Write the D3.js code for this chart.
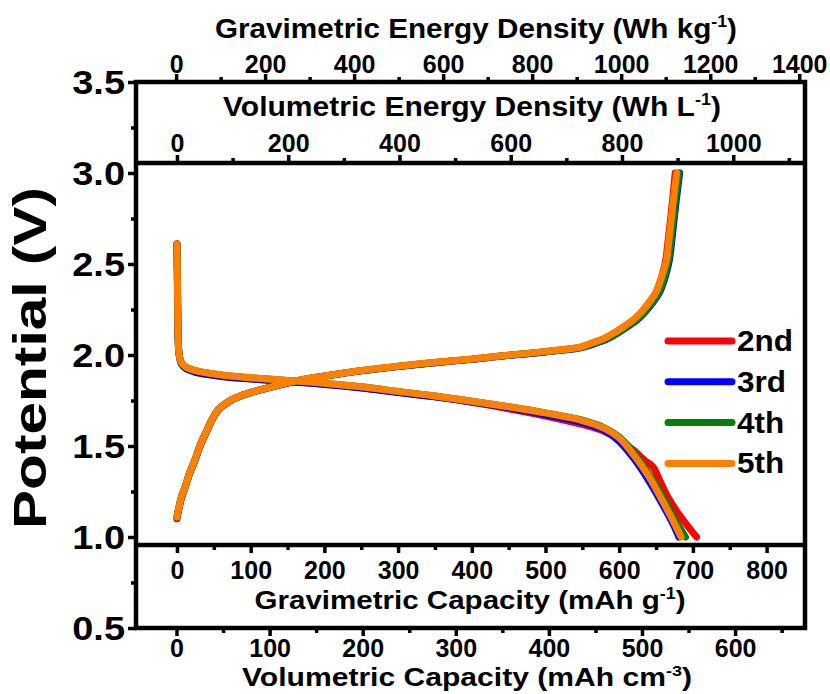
<!DOCTYPE html>
<html><head><meta charset="utf-8">
<script src="https://cdn.jsdelivr.net/npm/d3@7"></script>
<style>
html,body{margin:0;padding:0;background:#fff;}
svg text{font-family:"Liberation Sans",Arial,sans-serif;font-weight:bold;fill:#000;}
</style></head><body>
<svg id="chart" width="830" height="694"></svg>
<script>
// ---------------- data ----------------
const cycles = ["2nd", "3rd", "4th", "5th"];
const colors = ["#FF0000", "#0000FF", "#008000", "#FF8000"];

// discharge curves: [gravimetric capacity (mAh/g), potential (V)]
const discharge2nd = [[0,2.61],[0.5,2.45],[1,2.25],[1.5,2.1],[3,2.0],[6,1.955],[12,1.93],[25,1.91],[60,1.885],[100,1.87],[150,1.855],[200,1.84],[250,1.82],[300,1.795],[350,1.77],[400,1.74],[450,1.705],[500,1.665],[548,1.62],[580,1.58],[600,1.535],[620,1.475],[635,1.42],[646,1.385],[654,1.32],[666,1.22],[680,1.13],[693,1.06],[705,1.0]];
const discharge3rd = [[0,2.61],[0.5,2.45],[1,2.25],[1.5,2.1],[3,2.0],[6,1.95],[12,1.925],[25,1.905],[60,1.882],[100,1.868],[150,1.853],[200,1.838],[250,1.818],[300,1.794],[350,1.77],[400,1.742],[450,1.71],[500,1.672],[550,1.628],[580,1.585],[600,1.525],[620,1.43],[640,1.31],[660,1.17],[672,1.08],[681,1.0]];
const discharge4th = [[0,2.61],[0.5,2.45],[1,2.25],[1.5,2.1],[3,2.0],[6,1.958],[12,1.934],[25,1.914],[60,1.89],[100,1.875],[150,1.86],[200,1.845],[250,1.825],[300,1.8],[350,1.775],[400,1.746],[450,1.716],[500,1.682],[550,1.642],[580,1.6],[600,1.55],[620,1.462],[640,1.348],[660,1.215],[678,1.08],[690,1.0]];
const discharge5th = [[0,2.61],[0.5,2.45],[1,2.25],[1.5,2.1],[3,2.0],[6,1.958],[12,1.934],[25,1.914],[60,1.89],[100,1.875],[150,1.86],[200,1.845],[250,1.825],[300,1.8],[350,1.775],[400,1.746],[450,1.716],[500,1.682],[550,1.64],[580,1.597],[600,1.545],[620,1.45],[640,1.335],[660,1.19],[675,1.075],[684,1.0]];

// charge curves
const charge2nd = [[0,1.1],[3,1.16],[6,1.21],[11,1.27],[17,1.345],[24,1.415],[32,1.505],[41,1.585],[48,1.645],[56,1.695],[70,1.742],[86,1.773],[105,1.798],[127,1.822],[167,1.861],[200,1.883],[250,1.913],[303,1.938],[350,1.958],[400,1.976],[439,1.993],[500,2.018],[548,2.043],[562,2.063],[580,2.09],[595,2.125],[607,2.157],[620,2.195],[630,2.235],[640,2.285],[650,2.345],[658,2.435],[663,2.52],[667,2.65],[672,2.835],[676,3.0]];
const charge3rd = [[0,1.11],[3,1.17],[6,1.22],[11,1.275],[17,1.35],[24,1.42],[32,1.51],[41,1.59],[48,1.65],[56,1.7],[70,1.745],[86,1.775],[105,1.8],[127,1.824],[167,1.862],[200,1.884],[250,1.913],[303,1.938],[350,1.958],[400,1.976],[439,1.993],[500,2.017],[548,2.04],[565,2.06],[585,2.09],[600,2.125],[612,2.157],[625,2.195],[635,2.235],[645,2.285],[655,2.345],[663,2.435],[668,2.52],[672,2.65],[677,2.835],[682,3.0]];
const charge4th = [[0,1.11],[3,1.17],[6,1.22],[11,1.275],[17,1.35],[24,1.42],[32,1.51],[41,1.59],[48,1.65],[56,1.7],[70,1.745],[86,1.775],[105,1.8],[127,1.824],[167,1.862],[200,1.884],[250,1.914],[303,1.939],[350,1.959],[400,1.977],[439,1.994],[500,2.018],[548,2.042],[564,2.062],[584,2.09],[599,2.125],[611,2.157],[624,2.195],[634,2.235],[644,2.285],[654,2.345],[662,2.435],[667,2.52],[671,2.65],[676,2.835],[681,3.0]];
const charge5th = [[0,1.11],[3,1.17],[6,1.22],[11,1.275],[17,1.35],[24,1.42],[32,1.51],[41,1.59],[48,1.65],[56,1.7],[70,1.745],[86,1.775],[105,1.8],[127,1.824],[167,1.863],[200,1.885],[250,1.915],[303,1.94],[350,1.96],[400,1.978],[439,1.995],[500,2.02],[548,2.044],[562,2.065],[580,2.092],[595,2.127],[607,2.158],[620,2.196],[630,2.235],[640,2.285],[650,2.345],[658,2.435],[664,2.52],[668,2.65],[673,2.835],[678,3.0]];

const dischargeCurves = [discharge2nd, discharge3rd, discharge4th, discharge5th];
const chargeCurves = [charge2nd, charge3rd, charge4th, charge5th];

// tick values
const potentialTicks = [0.5, 1.0, 1.5, 2.0, 2.5, 3.0, 3.5];
const potentialMinor = [0.75, 1.25, 1.75, 2.25, 2.75, 3.25];
const gravEnergyTicks = [0, 200, 400, 600, 800, 1000, 1200, 1400];
const gravEnergyMinor = [100, 300, 500, 700, 900, 1100, 1300];
const volEnergyTicks = [0, 200, 400, 600, 800, 1000];
const volEnergyMinor = [100, 300, 500, 700, 900, 1100];
const gravCapTicks = [0, 100, 200, 300, 400, 500, 600, 700, 800];
const gravCapMinor = [50, 150, 250, 350, 450, 550, 650, 750];
const volCapTicks = [0, 100, 200, 300, 400, 500, 600];
const volCapMinor = [50, 150, 250, 350, 450, 550, 650];

// ---------------- layout ----------------
const L = 136, R = 805;
const svg = d3.select("#chart");
const font = '"Liberation Sans", Arial, sans-serif';

const x = d3.scaleLinear().domain([-55.6, 852.1]).range([L, R]);        // mAh/g
const xVolCap = d3.scaleLinear().domain([-43.5, 675.1]).range([L, R]);  // mAh/cm3
const xGravE = d3.scaleLinear().domain([-90.1, 1413]).range([L, R]);    // Wh/kg
const xVolE = d3.scaleLinear().domain([-73.6, 1129]).range([L, R]);     // Wh/L
const y = d3.scaleLinear().domain([0.5, 3.5]).range([628, 82]);

const yTop = y(3.5), yMid = y(3.055), yLowInner = y(0.956), yBot = y(0.5);

const MAJ = 8, MIN = 5, TW = 3.5;
const TICKFS = 25;

function styleAxis(g, fs) {
  g.select(".domain").remove();
  g.selectAll(".tick line").attr("stroke", "#000").attr("stroke-width", TW);
  g.selectAll(".tick text").attr("font-size", fs).attr("font-family", font).attr("font-weight", "bold").attr("fill", "#000");
}
function addAxis(axisFn, scale, pos, isX, major, minor, fmt, pad) {
  const tr = isX ? `translate(0,${pos})` : `translate(${pos},0)`;
  const g = svg.append("g").attr("transform", tr);
  g.call(axisFn(scale).tickValues(major).tickSize(MAJ).tickPadding(pad).tickFormat(fmt));
  styleAxis(g, TICKFS);
  const gm = svg.append("g").attr("transform", tr);
  gm.call(axisFn(scale).tickValues(minor).tickSize(MIN).tickFormat(""));
  styleAxis(gm, 0);
  return g;
}

// left axis (potential)
const gl = addAxis(d3.axisLeft, y, L, false, potentialTicks, potentialMinor, d3.format(".1f"), 3);
gl.selectAll(".tick text").attr("font-size", 33).attr("x", 0).attr("dy", "0.36em")
  .attr("transform", `translate(${-(MAJ + 3)},0) scale(1.15,1)`);

// top outer axis: gravimetric energy density
addAxis(d3.axisTop, xGravE, yTop, true, gravEnergyTicks, gravEnergyMinor, d3.format("d"), 1);
// middle axis: volumetric energy density
addAxis(d3.axisTop, xVolE, yMid, true, volEnergyTicks, volEnergyMinor, d3.format("d"), 3);
// lower inner axis: gravimetric capacity
addAxis(d3.axisBottom, x, yLowInner, true, gravCapTicks, gravCapMinor, d3.format("d"), 8);
// bottom outer axis: volumetric capacity
addAxis(d3.axisBottom, xVolCap, yBot, true, volCapTicks, volCapMinor, d3.format("d"), 3);

// curves
svg.append("clipPath").attr("id", "plotclip").append("rect")
  .attr("x", L).attr("y", yMid).attr("width", R - L).attr("height", yLowInner - yMid);
const lineC = d3.line().x(d => x(d[0])).y(d => y(d[1])).curve(d3.curveCatmullRom.alpha(0.5));
const gc = svg.append("g").attr("clip-path", "url(#plotclip)");
cycles.forEach((c, i) => {
  [dischargeCurves[i], chargeCurves[i]].forEach(data => {
    gc.append("path").datum(data).attr("d", lineC)
      .attr("fill", "none").attr("stroke", colors[i]).attr("stroke-width", 7)
      .attr("stroke-linecap", "round").attr("stroke-linejoin", "round");
  });
});

// frame
const FW = 4.5;
svg.append("rect").attr("x", L).attr("y", yTop).attr("width", R - L).attr("height", yBot - yTop)
  .attr("fill", "none").attr("stroke", "#000").attr("stroke-width", FW);
[yMid, yLowInner].forEach(yy => {
  svg.append("line").attr("x1", L).attr("x2", R).attr("y1", yy).attr("y2", yy)
    .attr("stroke", "#000").attr("stroke-width", FW);
});

// legend
const lg = svg.append("g");
cycles.forEach((c, i) => {
  const yy = 341 + i * 40.8;
  lg.append("line").attr("x1", 668).attr("x2", 732).attr("y1", yy).attr("y2", yy)
    .attr("stroke", colors[i]).attr("stroke-width", 7).attr("stroke-linecap", "round");
  lg.append("text").attr("x", 0).attr("y", 0).attr("font-size", 30)
    .attr("transform", `translate(737,${yy + 10}) scale(1.05,1)`).text(c);
});

// titles
function title(xc, yb, main, sup, tail, fs, width) {
  const t = svg.append("text").attr("x", xc - width / 2).attr("y", yb).attr("font-size", fs)
    .attr("textLength", width).attr("lengthAdjust", "spacingAndGlyphs");
  t.append("tspan").text(main);
  t.append("tspan").attr("font-size", fs * 0.6).attr("dy", -fs * 0.4).text(sup);
  t.append("tspan").attr("dy", fs * 0.4).text(tail);
  return t;
}
title(476, 38, "Gravimetric Energy Density (Wh kg", "-1", ")", 27, 522);
title(472, 116, "Volumetric Energy Density (Wh L", "-1", ")", 27, 498);
title(470, 609, "Gravimetric Capacity (mAh g", "-1", ")", 26, 431);
title(467, 686, "Volumetric Capacity (mAh cm", "-3", ")", 25, 450);

svg.append("text").attr("transform", `translate(46,358) rotate(-90)`)
  .attr("x", -171).attr("font-size", 46)
  .attr("textLength", 342).attr("lengthAdjust", "spacingAndGlyphs").text("Potential (V)");
</script>
</body></html>
